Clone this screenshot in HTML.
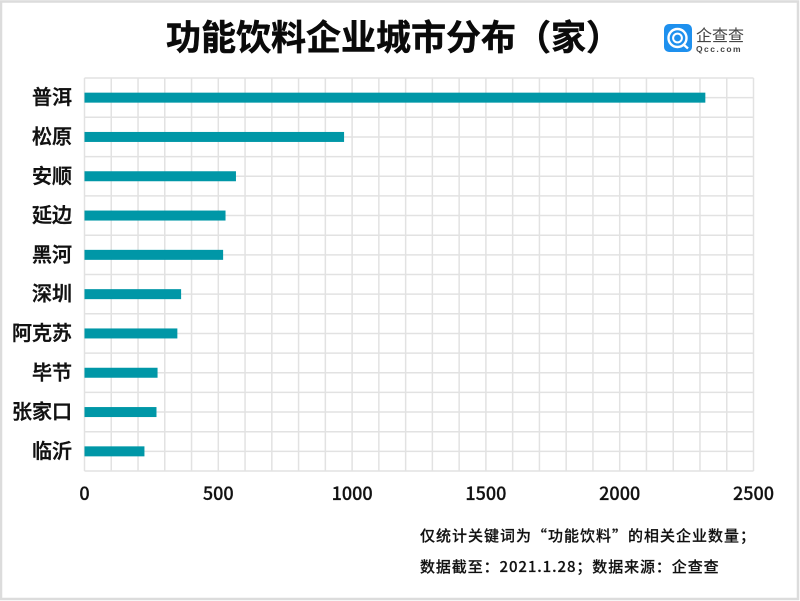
<!DOCTYPE html>
<html lang="zh-CN">
<head>
<meta charset="utf-8">
<title>功能饮料企业城市分布（家）</title>
<style>
html,body{margin:0;padding:0;background:#fff;}
body{width:800px;height:601px;overflow:hidden;}
svg{display:block;}
text{font-family:"Liberation Sans","Noto Sans CJK SC",sans-serif;fill:#111;}
.cjk{font-family:"Noto Sans CJK SC","Liberation Sans",sans-serif;}
</style>
</head>
<body>
<svg id="chart" width="800" height="601" viewBox="0 0 800 601" xmlns="http://www.w3.org/2000/svg">
  <rect x="1" y="1.5" width="797" height="597.5" fill="#fff" stroke="#dcdcdc" stroke-width="2.5"/>
  <text class="cjk" x="166" y="50" font-size="35" font-weight="700" stroke="#0a0a0a" stroke-width="0.5" style="fill:#0a0a0a">功能饮料企业城市分布（家）</text>
  <g>
    <rect x="664" y="24" width="28" height="28" rx="5" fill="#1e90ee"/>
    <circle cx="677.5" cy="38" r="9" fill="none" stroke="#fff" stroke-width="2.4"/>
    <circle cx="677.5" cy="38" r="4.4" fill="none" stroke="#fff" stroke-width="2"/>
    <line x1="683" y1="44" x2="688" y2="48.5" stroke="#fff" stroke-width="2.4"/>
    <text class="cjk" x="696" y="41" font-size="16" style="fill:#444">企查查</text>
    <text x="696" y="52" font-size="8.5" font-weight="700" letter-spacing="1.45" style="fill:#444">Qcc.com</text>
  </g>
  <g id="grid"></g>
  <g id="bars"></g>
  <g id="ylabels"></g>
  <g id="xlabels"></g>
  <text class="cjk" x="420" y="541" font-size="15" font-weight="500" letter-spacing="1" stroke="#111" stroke-width="0.2">仅统计关键词为“功能饮料”的相关企业数量；</text>
  <text class="cjk" x="420" y="572" font-size="15" font-weight="500" letter-spacing="0.9" stroke="#111" stroke-width="0.2">数据截至：2021.1.28；数据来源：企查查</text>
</svg>
<script>
const categories = ['普洱', '松原', '安顺', '延边', '黑河', '深圳', '阿克苏', '毕节', '张家口', '临沂'];
const seriesValues = [2320, 970, 566, 527, 518, 361, 347, 273, 269, 224];
const tickLabels = [0, 500, 1000, 1500, 2000, 2500];
const xMax = 2500;
const gridStep = 100;

const NS = 'http://www.w3.org/2000/svg';
const plotLeft = 84.5, plotRight = 753.5, plotTop = 78, plotBottom = 471;
const barHeight = 10;
const xScale = function (v) { return plotLeft + (v / xMax) * (plotRight - plotLeft); };
const bandHeight = (plotBottom - plotTop) / categories.length;
const yScale = function (i) { return plotTop + bandHeight * (i + 0.5); };

function make(tag, attrs) {
  const el = document.createElementNS(NS, tag);
  for (const k in attrs) el.setAttribute(k, attrs[k]);
  return el;
}

const grid = document.getElementById('grid');
for (let v = 0; v <= xMax; v += gridStep) {
  const line = make('line', { x1: xScale(v), x2: xScale(v), y1: plotTop, y2: plotBottom, stroke: '#e2e2e2', 'stroke-width': 1.5 });
  
  
  grid.appendChild(line);
}
for (let h = 0; h <= categories.length * 2; h++) {
  const y = plotTop + (bandHeight / 2) * h;
  const line = make('line', { x1: plotLeft, x2: plotRight, y1: y, y2: y, stroke: '#e2e2e2', 'stroke-width': 1.5 });
  
  
  grid.appendChild(line);
}

const bars = document.getElementById('bars');
const ylabels = document.getElementById('ylabels');
categories.forEach(function (name, i) {
  const bar = make('rect', { x: plotLeft, y: yScale(i) - barHeight / 2, width: xScale(seriesValues[i]) - plotLeft, height: barHeight, fill: '#0097a7' });
  
  
  bars.appendChild(bar);

  const label = make('text', { x: 72, y: yScale(i) + 6.5, 'text-anchor': 'end', 'font-size': 20, 'font-weight': 500, stroke: '#111', 'stroke-width': 0.45, class: 'cjk' });
  
  
  label.textContent = name;
  ylabels.appendChild(label);
});

const xlabels = document.getElementById('xlabels');
tickLabels.forEach(function (t) {
  const label = make('text', { x: xScale(t), y: 500, 'text-anchor': 'middle', 'font-size': 18, 'font-weight': 500, stroke: '#111', 'stroke-width': 0.25, class: 'cjk' });
  
  
  label.textContent = t;
  xlabels.appendChild(label);
});
</script>
</body>
</html>
